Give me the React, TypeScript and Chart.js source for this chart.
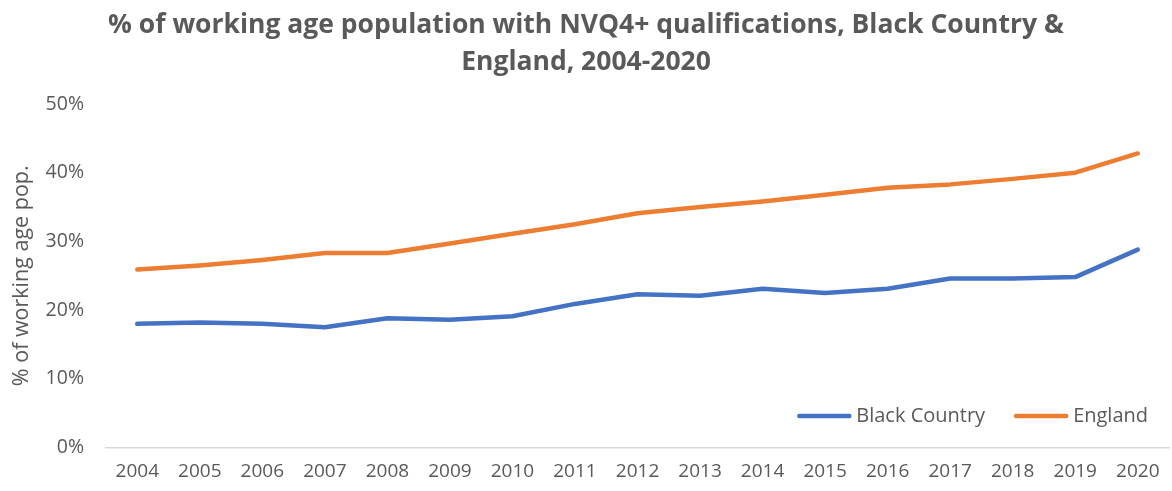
import React, { useEffect, useRef } from "react";
import { Chart, registerables } from "chart.js";

Chart.register(...registerables);

const years = ["2004", "2005", "2006", "2007", "2008", "2009", "2010", "2011", "2012", "2013", "2014", "2015", "2016", "2017", "2018", "2019", "2020"];
const blackCountry = [18.0, 18.2, 18.0, 17.5, 18.8, 18.6, 19.1, 20.9, 22.3, 22.1, 23.1, 22.5, 23.1, 24.6, 24.6, 24.8, 28.8];
const england = [25.9, 26.5, 27.3, 28.3, 28.3, 29.7, 31.1, 32.5, 34.1, 35.0, 35.8, 36.8, 37.8, 38.3, 39.1, 40.0, 42.8];
const seriesNames = ["Black Country", "England"];
const seriesColors = ["#4472C4", "#ED7D31"];
const titleLines = ["% of working age population with NVQ4+ qualifications, Black Country &", "England, 2004-2020"];
const yAxisTitle = "% of working age pop.";
const yTicks = [0, 10, 20, 30, 40, 50];

const FONT = "'Open Sans', sans-serif";
const TEXT = "#595959";

const overlayPlugin = {
  id: "overlay",
  afterDraw(chart: any) {
    const ctx = chart.ctx;
    const area = chart.chartArea;
    ctx.save();
    ctx.fillStyle = TEXT;
    ctx.textAlign = "center";
    ctx.textBaseline = "middle";
    ctx.font = `bold 26.5px ${FONT}`;
    ctx.fillText(titleLines[0], chart.width / 2, 25);
    ctx.fillText(titleLines[1], chart.width / 2, 62);

    // legend, bottom-right inside the plot area
    ctx.font = `20px ${FONT}`;
    const lineLen = 54;
    const gap = 5;
    const itemGap = 29;
    const widths = chart.data.datasets.map((d: any) => lineLen + gap + ctx.measureText(d.label).width);
    const total = widths.reduce((a: number, b: number) => a + b, 0) + itemGap * (widths.length - 1);
    let x = area.right - 21 - total;
    const y = 416;
    chart.data.datasets.forEach((d: any, i: number) => {
      ctx.strokeStyle = d.borderColor;
      ctx.lineWidth = 4.5;
      ctx.lineCap = "round";
      ctx.beginPath();
      ctx.moveTo(x + 2, y);
      ctx.lineTo(x + lineLen - 2, y);
      ctx.stroke();
      ctx.textAlign = "left";
      ctx.fillStyle = TEXT;
      ctx.fillText(d.label, x + lineLen + gap, y);
      x += widths[i] + itemGap;
    });
    ctx.restore();
  },
};

export default function App() {
  const ref = useRef<HTMLCanvasElement | null>(null);
  useEffect(() => {
    document.body.style.margin = "0";
    const canvas = ref.current!;
    const chart = new Chart(canvas, {
      type: "line",
      data: {
        labels: years,
        datasets: [
          {
            label: seriesNames[0],
            data: blackCountry,
            borderColor: seriesColors[0],
            backgroundColor: seriesColors[0],
            borderWidth: 4.5,
            pointRadius: 0,
            borderCapStyle: "round",
            borderJoinStyle: "round",
            tension: 0,
          },
          {
            label: seriesNames[1],
            data: england,
            borderColor: seriesColors[1],
            backgroundColor: seriesColors[1],
            borderWidth: 4.5,
            pointRadius: 0,
            borderCapStyle: "round",
            borderJoinStyle: "round",
            tension: 0,
          },
        ],
      },
      options: {
        animation: false,
        responsive: false,
        devicePixelRatio: 1,
        layout: { padding: { top: 104, right: 0, bottom: 0, left: 0 } },
        plugins: {
          legend: { display: false },
          title: { display: false },
          tooltip: { enabled: false },
        },
        scales: {
          x: {
            type: "category",
            offset: true,
            grid: { display: false, drawTicks: false },
            border: { display: true, color: "#d9d9d9", width: 1.5 },
            ticks: { color: TEXT, font: { family: FONT, size: 19 }, padding: 12.5, maxRotation: 0, autoSkip: false },
            afterFit: (s: any) => { s.height = 43.5; },
          },
          y: {
            min: 0,
            max: 50,
            afterBuildTicks: (s: any) => { s.ticks = yTicks.map((v) => ({ value: v })); },
            grid: { display: false, drawTicks: false },
            border: { display: false },
            ticks: { color: TEXT, font: { family: FONT, size: 19.5 }, padding: 22, callback: (v: any) => `${v}%` },
            title: { display: true, text: yAxisTitle, color: TEXT, font: { family: FONT, size: 21.5 }, padding: { top: 9, bottom: 0 } },
            afterFit: (s: any) => { s.width = 106; },
          },
        },
      },
      plugins: [overlayPlugin],
    });
    return () => chart.destroy();
  }, []);
  return (
    <div style={{ width: 1172, height: 491 }}>
      <canvas ref={ref} width={1172} height={491} style={{ display: "block" }} />
    </div>
  );
}
